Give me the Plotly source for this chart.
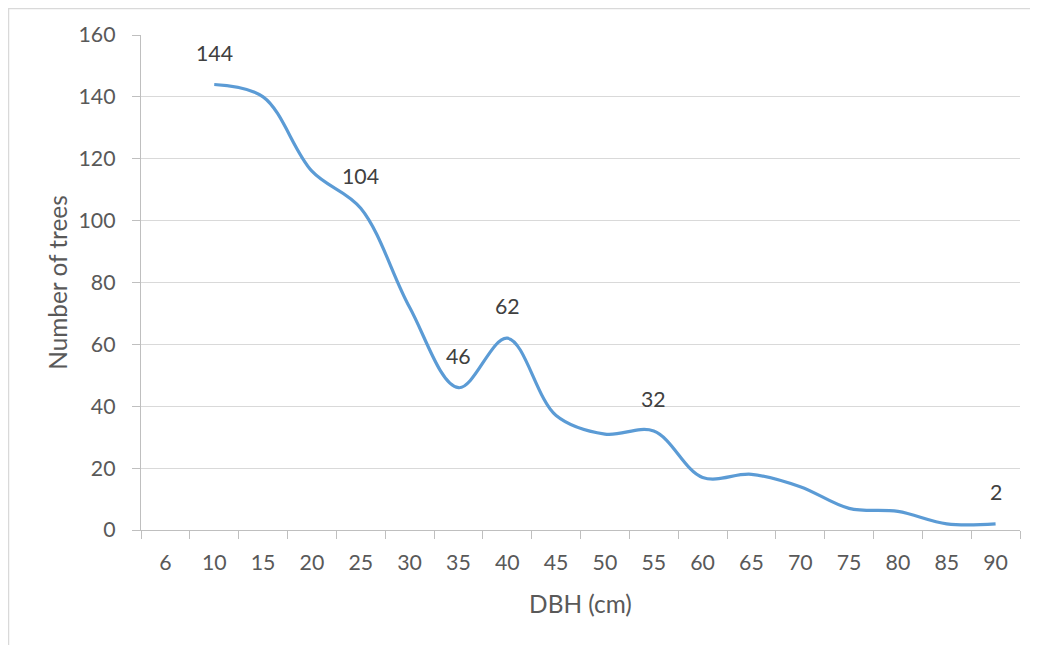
import plotly.graph_objects as go

# ---- data ----
dbh_classes = ["6", "10", "15", "20", "25", "30", "35", "40", "45", "50",
               "55", "60", "65", "70", "75", "80", "85", "90"]
number_of_trees = [None, 144, 140, 116, 104, 72, 46, 62, 37, 31,
                   32, 17, 18, 14, 7, 6, 2, 2]
labelled_classes = ["10", "25", "35", "40", "55", "90"]
y_ticks = [0, 20, 40, 60, 80, 100, 120, 140, 160]

FONT = "Lato"
TICK_SIZE = 21.3
TITLE_SIZE = 24.4
GREY_TXT = "#595959"

# figure is placed 8px inside the page (default body margin)
W, H = 1030, 637
L, R, T, B = 133, 18, 27, 115
PW, PH = W - L - R, H - T - B

fig = go.Figure()
fig.add_trace(go.Scatter(
    x=dbh_classes, y=number_of_trees,
    mode="lines",
    line=dict(color="#5B9BD5", width=3.2, shape="spline", smoothing=1.0),
    connectgaps=False,
    hoverinfo="skip",
    showlegend=False,
))

annotations = []
for i, (c, v) in enumerate(zip(dbh_classes, number_of_trees)):
    if c in labelled_classes and v is not None:
        annotations.append(dict(
            x=i, y=v, xref="x", yref="y", text=str(v), showarrow=False,
            yshift=32, font=dict(family=FONT, size=TICK_SIZE, color="#404040"),
        ))


def px_x(p):
    return (p - L) / PW


def px_y(p):
    return (H - B - p) / PH


# outer chart-area border (top & left visible)
shapes = [dict(type="rect", xref="paper", yref="paper",
               x0=px_x(0.6), x1=px_x(1080), y0=px_y(700), y1=px_y(0.6),
               line=dict(color="#D9D9D9", width=1.3), fillcolor="rgba(0,0,0,0)",
               layer="below")]

fig.update_layout(
    width=W, height=H,
    margin=dict(l=L, r=R, t=T, b=B, pad=0),
    paper_bgcolor="white", plot_bgcolor="white",
    font=dict(family=FONT, size=TICK_SIZE, color=GREY_TXT),
    annotations=annotations,
    shapes=shapes,
    xaxis=dict(
        type="category",
        categoryorder="array", categoryarray=dbh_classes,
        range=[-0.5, len(dbh_classes) - 0.5],
        tickson="boundaries",
        ticks="outside", ticklen=8, tickcolor="#BFBFBF", tickwidth=1.3,
        showline=True, linecolor="#BFBFBF", linewidth=1.3,
        showgrid=False, zeroline=False,
        ticklabelstandoff=13,
        tickfont=dict(family=FONT, size=TICK_SIZE, color=GREY_TXT),
        title=dict(text="DBH (cm)", font=dict(family=FONT, size=TITLE_SIZE, color=GREY_TXT),
                   standoff=22),
    ),
    yaxis=dict(
        range=[0, 160],
        tickmode="array", tickvals=y_ticks, ticktext=[str(t) for t in y_ticks],
        ticks="outside", ticklen=8, tickcolor="#BFBFBF", tickwidth=1.3,
        showline=True, linecolor="#BFBFBF", linewidth=1.3,
        showgrid=True, gridcolor="#D9D9D9", gridwidth=1.3,
        zeroline=False,
        ticklabelstandoff=12,
        tickfont=dict(family=FONT, size=TICK_SIZE, color=GREY_TXT),
        title=dict(text="Number of trees", font=dict(family=FONT, size=TITLE_SIZE, color=GREY_TXT),
                   standoff=3),
    ),
)

fig.write_html("out.html")
